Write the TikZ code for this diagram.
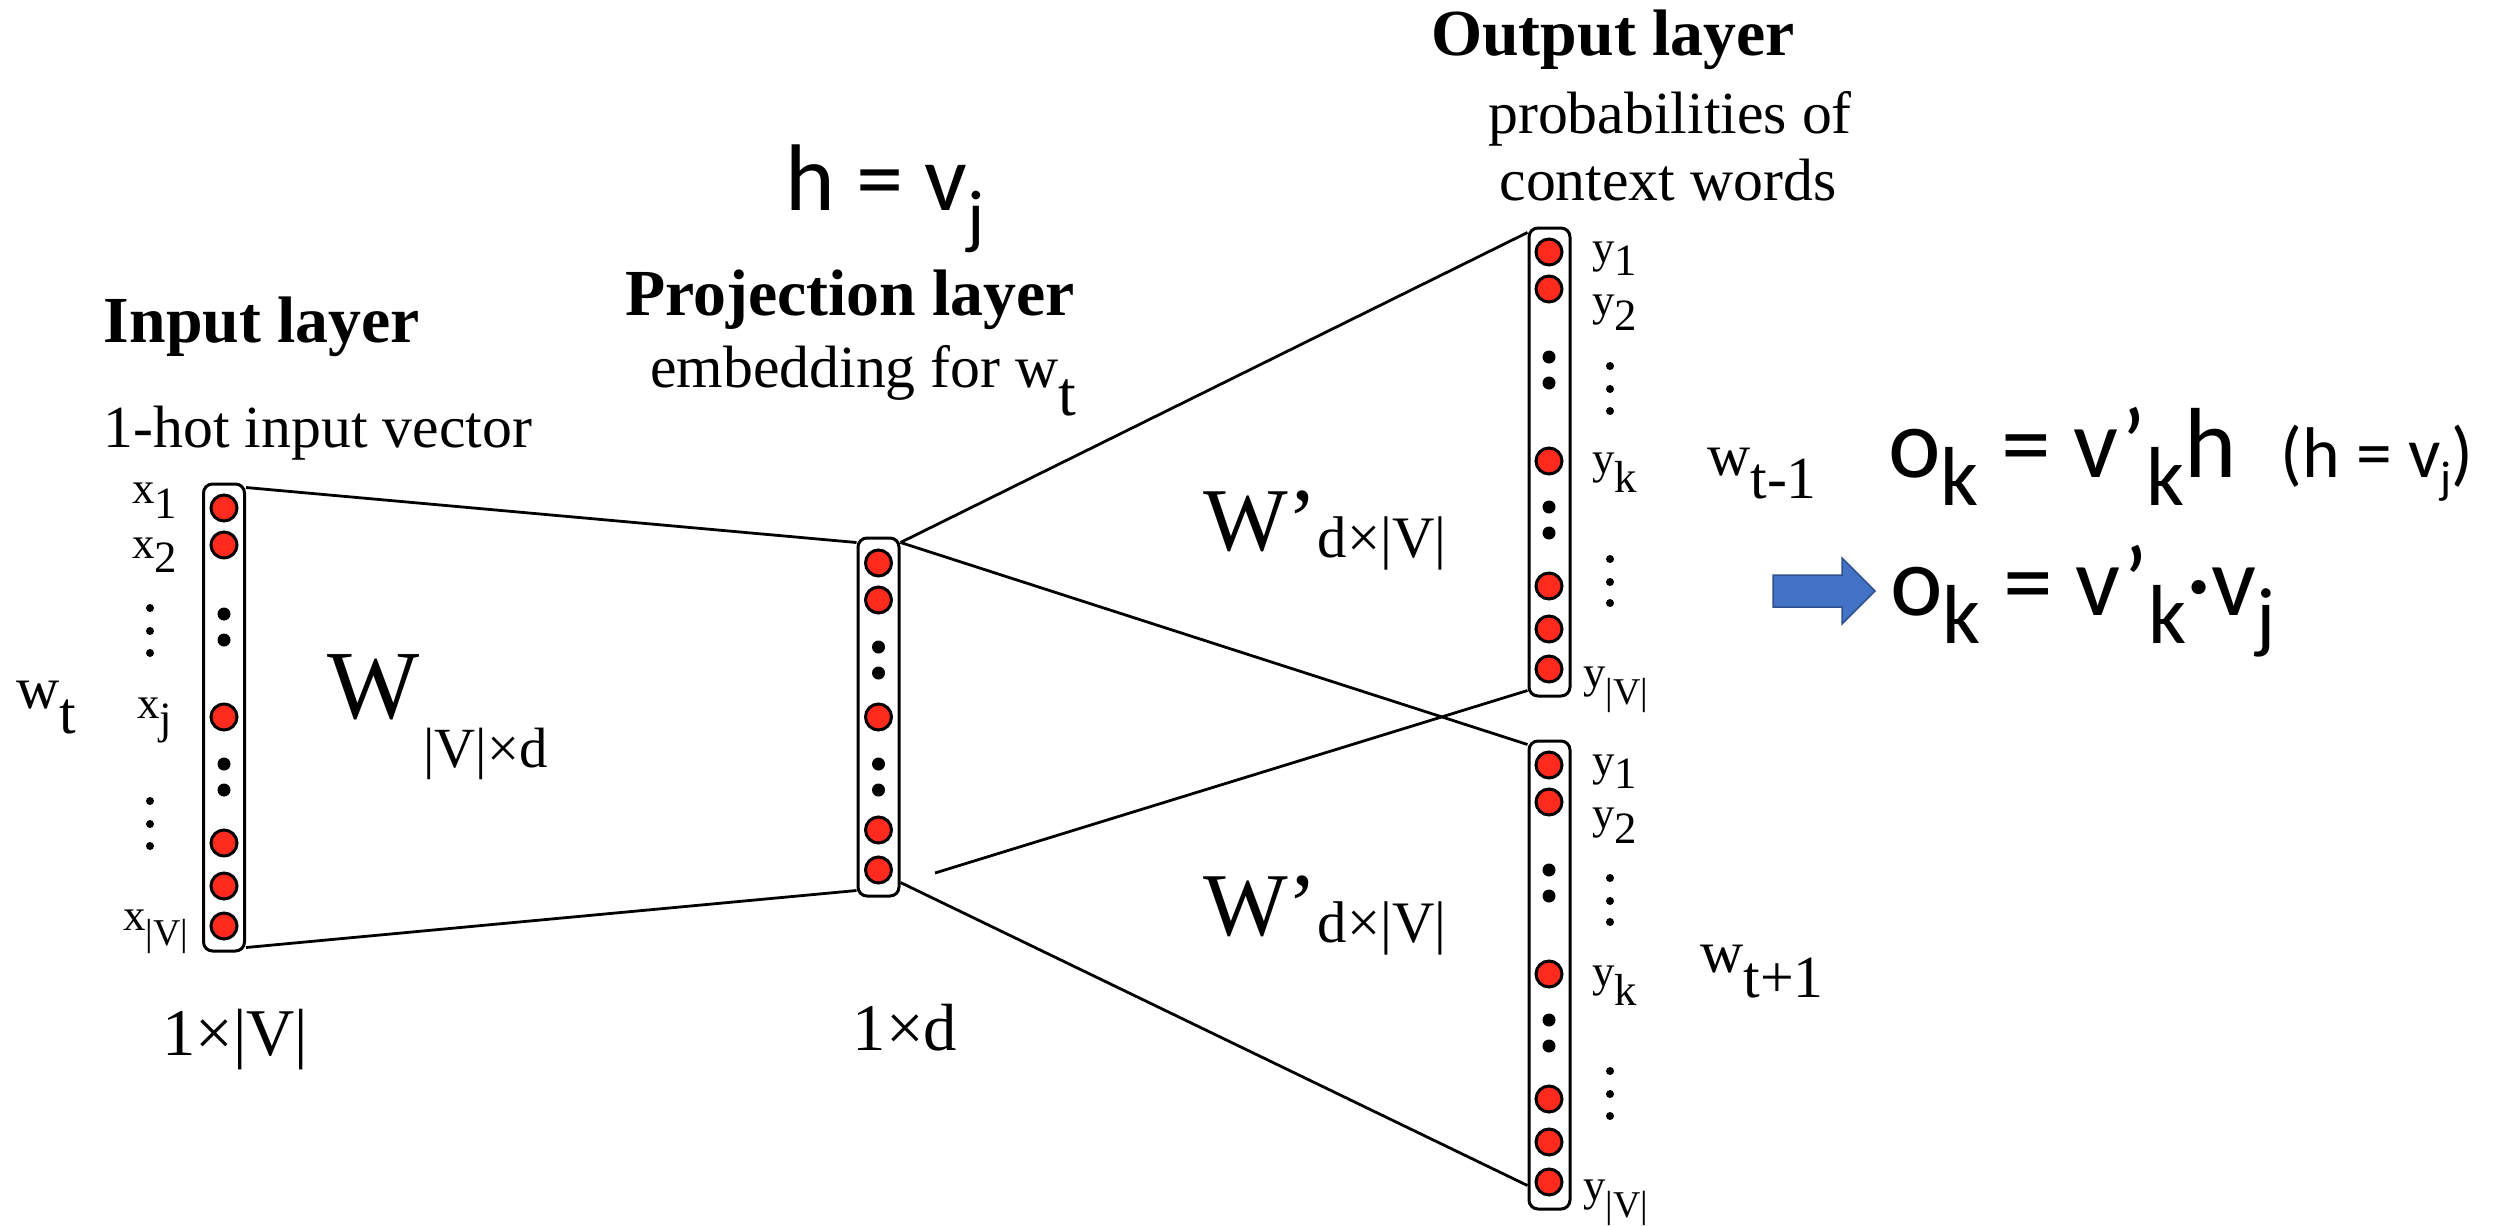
\documentclass[tikz,border=0pt]{standalone}
\usepackage{fontspec}
\setmainfont{Liberation Serif}
\newfontfamily\calfont{Carlito}
\definecolor{nodered}{RGB}{255,42,30}
\definecolor{arrowblue}{RGB}{68,114,196}
\definecolor{arrowedge}{RGB}{47,82,143}
\newcommand\fs[1]{\fontsize{#1}{#1}\selectfont}
\newcommand\lowr[2]{\raisebox{-#1bp}{#2}}
\newcommand\apos{\char"2019\relax}
\begin{document}
\begin{tikzpicture}[x=1bp,y=-1bp,
  layerbox/.style={draw, line width=3bp, rounded corners=9bp, minimum width=41bp, inner sep=0pt},
  neuron/.style={circle, draw, line width=3bp, fill=nodered, minimum size=26bp, inner sep=0pt},
  bdot/.style={circle, fill=black, minimum size=13bp, inner sep=0pt},
  vdot/.style={circle, fill=black, minimum size=8bp, inner sep=0pt},
  conn/.style={line width=2.8bp},
  lab/.style={inner sep=0pt, anchor=base west, font=\fs{45}},
  title/.style={inner sep=0pt, anchor=base, font=\bfseries\fs{66}},
  plain/.style={inner sep=0pt, anchor=base, font=\fs{60}},
  plainw/.style={inner sep=0pt, anchor=base west, font=\fs{60}},
  dimlab/.style={inner sep=0pt, anchor=base, font=\fs{67}},
  wlab/.style={inner sep=0pt, anchor=base west, font=\fs{98}},
  formula/.style={inner sep=0pt, anchor=base west, font=\calfont\fs{100}}
]
\useasboundingbox (0,0) rectangle (2514,1225);

% ---------- layer boxes ----------
\node[layerbox, minimum height=467bp] (inp)  at (224,717.5) {};
\node[layerbox, minimum height=358bp] (proj) at (878.5,717) {};
\node[layerbox, minimum height=468bp] (outA) at (1549.5,462) {};
\node[layerbox, minimum height=468bp] (outB) at (1549.5,975) {};

% ---------- connectors ----------
\coordinate (free) at (935,873);
\draw[conn] ([yshift=-5bp]inp.north east) -- ([yshift=-6bp]proj.north west);
\draw[conn] ([yshift=5bp]inp.south east) -- ([yshift=7bp]proj.south west);
\draw[conn] ([yshift=-6bp]proj.north east) -- ([yshift=-6bp]outA.north west);
\draw[conn] ([yshift=-6bp]proj.north east) -- ([yshift=-5bp]outB.north west);
\draw[conn] ([yshift=15bp]proj.south east) -- ([yshift=25bp]outB.south west);
\draw[conn] (free) -- ([yshift=7bp]outA.south west);

% ---------- neurons ----------
\foreach \y [count=\i] in {508,545,717,843,886,926} \node[neuron] (inp-c\i) at (224,\y) {};
\foreach \y [count=\i] in {614,640,764,790} \node[bdot] (inp-d\i) at (224,\y) {};
\foreach \y [count=\i] in {563,600,717,830,870} \node[neuron] (proj-c\i) at (878.5,\y) {};
\foreach \y [count=\i] in {647,673,764,790} \node[bdot] (proj-d\i) at (878.5,\y) {};
\foreach \y [count=\i] in {252,289,461,586,629,669} \node[neuron] (outA-c\i) at (1549,\y) {};
\foreach \y [count=\i] in {357,383,507,533} \node[bdot] (outA-d\i) at (1549,\y) {};
\foreach \y [count=\i] in {765,802,974,1099,1142,1182} \node[neuron] (outB-c\i) at (1549,\y) {};
\foreach \y [count=\i] in {870,896,1020,1046} \node[bdot] (outB-d\i) at (1549,\y) {};

% ---------- label ellipses ----------
\foreach \y [count=\i] in {608,631,653,801,824,846} \node[vdot] (inp-v\i) at (150,\y) {};
\foreach \y [count=\i] in {366,389,411,559,582,603} \node[vdot] (outA-v\i) at (1610,\y) {};
\foreach \y [count=\i] in {878,901,922,1071,1094,1116} \node[vdot] (outB-v\i) at (1610,\y) {};

% ---------- element labels ----------
\node[lab] (lx1) at (132,503) {x\lowr{15}{1}};
\node[lab] (lx2) at (132,558) {x\lowr{14}{2}};
\node[lab] (lxj) at (137,718) {x\lowr{15}{j}};
\node[lab] (lxv) at (123,930) {x\lowr{15}{\fs{38}|V|}};

\node[lab] (lyA1) at (1592,262) {y\lowr{13}{1}};
\node[lab] (lyA2) at (1592,315) {y\lowr{15}{2}};
\node[lab] (lyAk) at (1592,473) {y\lowr{19}{k}};
\node[lab] (lyAv) at (1583,687) {y\lowr{17}{\fs{38}|V|}};

\node[lab] (lyB1) at (1592,775) {y\lowr{13}{1}};
\node[lab] (lyB2) at (1592,828) {y\lowr{15}{2}};
\node[lab] (lyBk) at (1592,986) {y\lowr{19}{k}};
\node[lab] (lyBv) at (1583,1200) {y\lowr{17}{\fs{38}|V|}};

% ---------- word labels ----------
\node[plainw] (wt)  at (16,708)   {w\lowr{25}{t}};
\node[plainw] (wtm) at (1707,475) {w\lowr{23}{t-1}};
\node[plainw] (wtp) at (1700,972) {w\lowr{25}{t+1}};

% ---------- titles ----------
\node[title] (tin)  at (262,342)  {Input layer};
\node[plain] (sin)  at (318,447)  {1-hot input vector};
\node[title] (tpr)  at (850,315)  {Projection layer};
\node[plainw] (spr) at (650,387)  {embedding for w\lowr{28}{\fs{64}t}};
\node[title] (tout) at (1613,55)  {Output layer};
\node[plain] (sout1) at (1670,133) {probabilities of};
\node[plain] (sout2) at (1668,200) {context words};

% ---------- weights and sizes ----------
\node[wlab] (wmat) at (327,718) {W\hspace{4bp}\lowr{49}{\fs{57}|V|×d}};
\node[wlab, font=\fs{90}] (wpA) at (1203,550) {W\apos\lowr{7}{\fs{59}d×|V|}};
\node[wlab, font=\fs{90}] (wpB) at (1203,935) {W\apos\lowr{7}{\fs{59}d×|V|}};
\node[dimlab] (dinp) at (235,1055) {1×|V|};
\node[dimlab] (dproj) at (905,1050) {1×d};

% ---------- formulas ----------
\node[formula, font=\calfont\fs{95}] (hv) at (785,210) {h = v\lowr{30}{\fs{72}j}};
\node[formula] (f1) at (1888,477) {o\lowr{28}{\fs{84}k} = v\apos\lowr{28}{\fs{84}k}h\hspace{44bp}{\fs{72}(h = v\lowr{16}{\fs{46}j})}};
\node[formula] (f2) at (1890,615) {o\lowr{28}{\fs{84}k} = v\apos\lowr{28}{\fs{84}k}·v\lowr{28}{\fs{80}j}};

% ---------- blue arrow ----------
\draw[fill=arrowblue, draw=arrowedge, line width=1.5bp, line join=miter]
  (1773,575) -- (1842,575) -- (1842,558) -- (1875,591) -- (1842,624) -- (1842,607) -- (1773,607) -- cycle;
\end{tikzpicture}
\end{document}
